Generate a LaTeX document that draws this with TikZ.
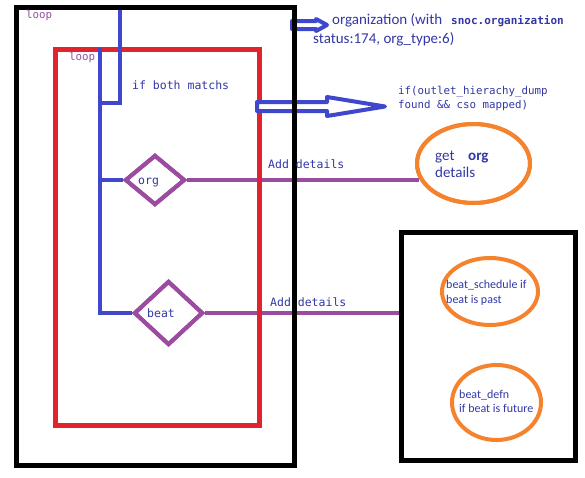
\documentclass[tikz,border=0pt]{standalone}
\usepackage{fontspec}
\setmainfont{Carlito}
\setmonofont{DejaVu Sans Mono}
\usetikzlibrary{shapes.geometric}
\definecolor{pblue}{RGB}{63,72,204}
\definecolor{pred}{RGB}{225,35,45}
\definecolor{ppurple}{RGB}{155,75,160}
\definecolor{porange}{RGB}{245,130,45}
\definecolor{tblue}{RGB}{50,56,165}
\definecolor{tpurple}{RGB}{150,80,160}
\tikzset{
  redbox/.style={draw=pred, line width=5pt},
  bline/.style={draw=pblue, line width=4pt},
  pline/.style={draw=ppurple, line width=4pt},
  dia/.style={diamond, draw=ppurple, line width=4pt, inner sep=0pt},
  oval/.style={ellipse, draw=porange, line width=4pt, inner sep=0pt},
  hollow/.style={draw=pblue, line width=4pt, fill=white, line join=round},
  mono/.style={anchor=base west, inner sep=0pt, text=tblue, font=\ttfamily\fontsize{11.5}{13}\selectfont},
  smono/.style={anchor=base west, inner sep=0pt, text=tblue, font=\ttfamily\fontsize{10.8}{12}\selectfont},
  loopt/.style={anchor=base west, inner sep=0pt, text=tpurple, font=\ttfamily\fontsize{10.8}{12}\selectfont},
  cal/.style={anchor=base west, inner sep=0pt, text=tblue, font=\fontsize{#1}{#1}\selectfont},
}
\begin{document}
\begin{tikzpicture}[x=1pt, y=-1pt]
\useasboundingbox[fill=white] (0,0) rectangle (585,477);

% shapes
\node[dia, minimum width=60pt, minimum height=50pt] (org) at (155,180) {};
\node[dia, minimum width=69pt, minimum height=64pt] (beat) at (168.5,313) {};
\node[oval, minimum width=113pt, minimum height=79pt] (getorg) at (473.5,163.5) {};
\node[oval, minimum width=96pt, minimum height=67pt] (sched) at (490,291.5) {};
\node[oval, minimum width=89pt, minimum height=75pt] (defn) at (496.5,402.5) {};
\node[draw=none, minimum width=174pt, minimum height=227.5pt, inner sep=0pt] (rbox) at (488.5,346.75) {};
\node[draw=none, minimum width=204pt, minimum height=375pt, inner sep=0pt] (inner) at (157.5,237.5) {};
\node[draw=none, minimum width=277.5pt, minimum height=457pt, inner sep=0pt] (outer) at (155.25,236.5) {};

% purple connectors
\coordinate (orgend) at ([xshift=4pt]getorg.west |- org.east);
\draw[pline] (org.east) -- (orgend);
\draw[pline] (beat.east) -- (beat.east -| rbox.west);

% red loop box
\draw[redbox] (inner.north west) rectangle (inner.south east);

% blue flow lines
\coordinate (btop) at (120,9);
\coordinate (bjoin) at (100,103);
\coordinate (bstart) at (100,48);
\draw[bline, line join=miter] (btop) |- (bjoin);
\draw[bline, line join=miter] (bstart) |- (beat.west);
\draw[bline] (bstart |- org.west) -- (org.west);

% hollow arrows
\coordinate (a1) at (292,21);
\draw[hollow] (a1) -- (316,21) -- (316,19) -- (327,25) -- (316,31) -- (316,29) -- (292,29) -- cycle;
\coordinate (a2) at (257,102);
\draw[hollow] (a2) -- (327,102) -- (327,97) -- (385,106.5) -- (327,116) -- (327,111) -- (257,111) -- cycle;

% black boxes
\draw[draw=black, line width=5pt] (outer.north west) rectangle (outer.south east);
\draw[draw=black, line width=5pt] (rbox.north west) rectangle (rbox.south east);

% redraw diamonds & ovals on top
\node[dia, minimum width=60pt, minimum height=50pt] (org2) at (org) {};
\node[dia, minimum width=69pt, minimum height=64pt] (beat2) at (beat) {};
\node[oval, minimum width=113pt, minimum height=79pt] (getorg2) at (getorg) {};

% texts
\node[loopt] (t1) at (26,18) {loop};
\node[loopt] (t2) at (69,60) {loop};
\node[mono] (t3) at (132,89) {if both matchs};
\node[mono] (t4) at (138,184) {org};
\node[mono] (t5) at (147,317) {beat};
\node[mono] (t6) at (268,168) {Add details};
\node[mono] (t7) at (270,306) {Add details};
\node[cal=15] (t8) at (332,24) {organization (with};
\node[mono, font=\ttfamily\bfseries\fontsize{11}{13}\selectfont] (t9) at (451,24) {snoc.organization};
\node[cal=15] (t10) at (313,43) {status:174, org\_type:6)};
\node[smono] (t11) at (398,94) {if(outlet\_hierachy\_dump};
\node[smono] (t12) at (398,108) {found \&\& cso mapped)};
\node[cal=15] (t13) at (435,160) {get};
\node[cal=15, font=\bfseries\fontsize{15}{15}\selectfont] (t14) at (468,160) {org};
\node[cal=15] (t15) at (435,177) {details};
\node[cal=12] (t16) at (446,288) {beat\_schedule if};
\node[cal=12] (t17) at (446,303) {beat is past};
\node[cal=12] (t18) at (459,398) {beat\_defn};
\node[cal=12] (t19) at (459,412) {if beat is future};
\end{tikzpicture}
\end{document}
